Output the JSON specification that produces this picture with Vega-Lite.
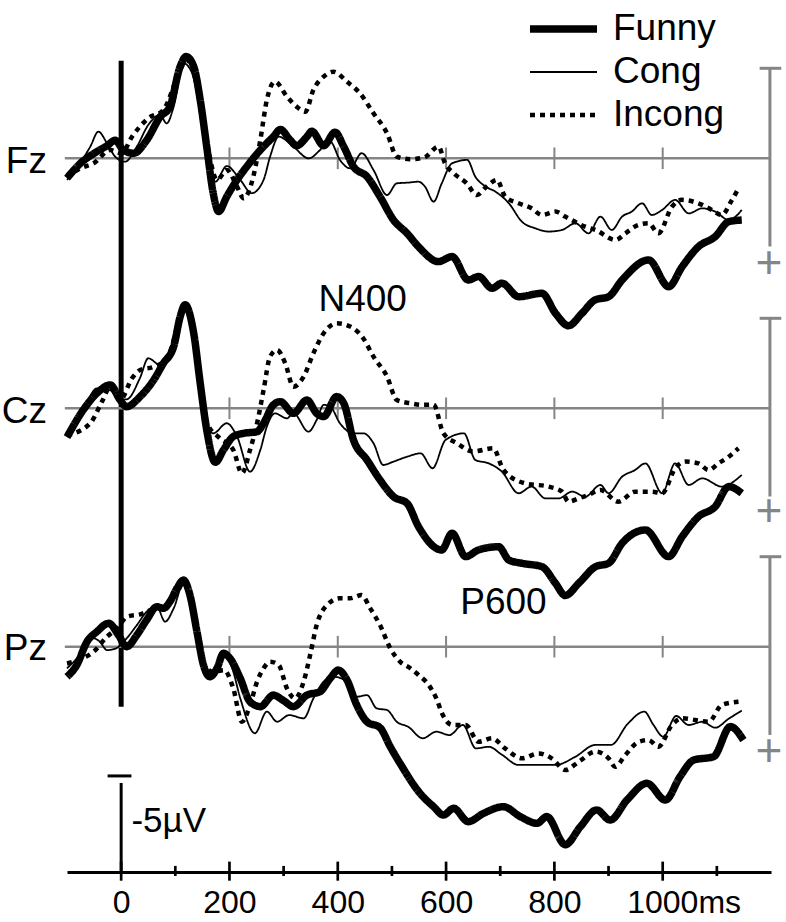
{
  "$schema": "https://vega.github.io/schema/vega-lite/v6.json",
  "width": 704,
  "height": 872,
  "autosize": {"type": "none"},
  "padding": {"left": 67, "top": 0, "right": 15, "bottom": 50},
  "background": "white",
  "config": {"view": {"stroke": null}, "font": "Liberation Sans", "text": {"font": "Liberation Sans"}},
  "datasets": {
    "gridTicks": [{"t": 200}, {"t": 400}, {"t": 600}, {"t": 800}, {"t": 1000}],
    "majorTicks": [{"t": 0}, {"t": 200}, {"t": 400}, {"t": 600}, {"t": 800}, {"t": 1000}],
    "minorTicks": [{"t": 100}, {"t": 300}, {"t": 500}, {"t": 700}, {"t": 900}, {"t": 1100}],
    "one": [{"k": 1}],
    "waves": [
      {"ch":"Fz","cond":"Funny","t":-100,"v":1.1},{"ch":"Fz","cond":"Funny","t":-76,"v":0.3},{"ch":"Fz","cond":"Funny","t":-45,"v":-0.37},{"ch":"Fz","cond":"Funny","t":-26,"v":-0.7},{"ch":"Fz","cond":"Funny","t":-11,"v":-1.0},{"ch":"Fz","cond":"Funny","t":4,"v":-0.46},{"ch":"Fz","cond":"Funny","t":23,"v":-0.28},{"ch":"Fz","cond":"Funny","t":47,"v":-1.0},{"ch":"Fz","cond":"Funny","t":72,"v":-2.3},{"ch":"Fz","cond":"Funny","t":90,"v":-2.87},{"ch":"Fz","cond":"Funny","t":109,"v":-5.1},{"ch":"Fz","cond":"Funny","t":120,"v":-5.65},{"ch":"Fz","cond":"Funny","t":134,"v":-5.1},{"ch":"Fz","cond":"Funny","t":146,"v":-3.24},{"ch":"Fz","cond":"Funny","t":158,"v":-0.65},{"ch":"Fz","cond":"Funny","t":170,"v":1.94},{"ch":"Fz","cond":"Funny","t":180,"v":2.95},{"ch":"Fz","cond":"Funny","t":195,"v":2.13},{"ch":"Fz","cond":"Funny","t":214,"v":1.2},{"ch":"Fz","cond":"Funny","t":232,"v":0.46},{"ch":"Fz","cond":"Funny","t":257,"v":-0.46},{"ch":"Fz","cond":"Funny","t":281,"v":-1.2},{"ch":"Fz","cond":"Funny","t":294,"v":-1.6},{"ch":"Fz","cond":"Funny","t":312,"v":-1.02},{"ch":"Fz","cond":"Funny","t":324,"v":-0.7},{"ch":"Fz","cond":"Funny","t":343,"v":-1.2},{"ch":"Fz","cond":"Funny","t":352,"v":-1.5},{"ch":"Fz","cond":"Funny","t":374,"v":-0.7},{"ch":"Fz","cond":"Funny","t":395,"v":-1.45},{"ch":"Fz","cond":"Funny","t":411,"v":-0.65},{"ch":"Fz","cond":"Funny","t":429,"v":0.46},{"ch":"Fz","cond":"Funny","t":454,"v":1.02},{"ch":"Fz","cond":"Funny","t":478,"v":2.13},{"ch":"Fz","cond":"Funny","t":503,"v":3.43},{"ch":"Fz","cond":"Funny","t":528,"v":4.17},{"ch":"Fz","cond":"Funny","t":549,"v":4.91},{"ch":"Fz","cond":"Funny","t":586,"v":5.74},{"ch":"Fz","cond":"Funny","t":611,"v":5.46},{"ch":"Fz","cond":"Funny","t":641,"v":6.76},{"ch":"Fz","cond":"Funny","t":660,"v":6.57},{"ch":"Fz","cond":"Funny","t":685,"v":7.22},{"ch":"Fz","cond":"Funny","t":703,"v":6.94},{"ch":"Fz","cond":"Funny","t":734,"v":7.69},{"ch":"Fz","cond":"Funny","t":777,"v":7.5},{"ch":"Fz","cond":"Funny","t":802,"v":8.61},{"ch":"Fz","cond":"Funny","t":826,"v":9.3},{"ch":"Fz","cond":"Funny","t":851,"v":8.61},{"ch":"Fz","cond":"Funny","t":875,"v":7.87},{"ch":"Fz","cond":"Funny","t":900,"v":7.69},{"ch":"Fz","cond":"Funny","t":925,"v":6.76},{"ch":"Fz","cond":"Funny","t":974,"v":5.65},{"ch":"Fz","cond":"Funny","t":1011,"v":7.13},{"ch":"Fz","cond":"Funny","t":1036,"v":6.02},{"ch":"Fz","cond":"Funny","t":1066,"v":4.91},{"ch":"Fz","cond":"Funny","t":1097,"v":4.35},{"ch":"Fz","cond":"Funny","t":1122,"v":3.52},{"ch":"Fz","cond":"Funny","t":1146,"v":3.43},
      {"ch":"Fz","cond":"Cong","t":-100,"v":1.2},{"ch":"Fz","cond":"Cong","t":-76,"v":0.28},{"ch":"Fz","cond":"Cong","t":-57,"v":-0.65},{"ch":"Fz","cond":"Cong","t":-42,"v":-1.48},{"ch":"Fz","cond":"Cong","t":-26,"v":-0.83},{"ch":"Fz","cond":"Cong","t":-11,"v":-0.09},{"ch":"Fz","cond":"Cong","t":7,"v":0.19},{"ch":"Fz","cond":"Cong","t":29,"v":-0.65},{"ch":"Fz","cond":"Cong","t":50,"v":-1.85},{"ch":"Fz","cond":"Cong","t":72,"v":-2.41},{"ch":"Fz","cond":"Cong","t":84,"v":-1.94},{"ch":"Fz","cond":"Cong","t":97,"v":-2.87},{"ch":"Fz","cond":"Cong","t":115,"v":-5.28},{"ch":"Fz","cond":"Cong","t":130,"v":-4.8},{"ch":"Fz","cond":"Cong","t":145,"v":-2.8},{"ch":"Fz","cond":"Cong","t":160,"v":-0.3},{"ch":"Fz","cond":"Cong","t":174,"v":1.3},{"ch":"Fz","cond":"Cong","t":195,"v":0.43},{"ch":"Fz","cond":"Cong","t":220,"v":1.2},{"ch":"Fz","cond":"Cong","t":241,"v":1.94},{"ch":"Fz","cond":"Cong","t":263,"v":1.2},{"ch":"Fz","cond":"Cong","t":275,"v":-0.09},{"ch":"Fz","cond":"Cong","t":291,"v":-1.2},{"ch":"Fz","cond":"Cong","t":318,"v":-0.65},{"ch":"Fz","cond":"Cong","t":346,"v":0.0},{"ch":"Fz","cond":"Cong","t":374,"v":-0.65},{"ch":"Fz","cond":"Cong","t":386,"v":-0.93},{"ch":"Fz","cond":"Cong","t":404,"v":0.09},{"ch":"Fz","cond":"Cong","t":423,"v":0.56},{"ch":"Fz","cond":"Cong","t":444,"v":-0.28},{"ch":"Fz","cond":"Cong","t":466,"v":0.65},{"ch":"Fz","cond":"Cong","t":491,"v":2.04},{"ch":"Fz","cond":"Cong","t":509,"v":1.39},{"ch":"Fz","cond":"Cong","t":530,"v":1.35},{"ch":"Fz","cond":"Cong","t":549,"v":1.3},{"ch":"Fz","cond":"Cong","t":561,"v":1.57},{"ch":"Fz","cond":"Cong","t":577,"v":2.41},{"ch":"Fz","cond":"Cong","t":592,"v":1.39},{"ch":"Fz","cond":"Cong","t":611,"v":0.28},{"ch":"Fz","cond":"Cong","t":639,"v":0.09},{"ch":"Fz","cond":"Cong","t":654,"v":1.02},{"ch":"Fz","cond":"Cong","t":673,"v":1.57},{"ch":"Fz","cond":"Cong","t":691,"v":1.85},{"ch":"Fz","cond":"Cong","t":716,"v":2.5},{"ch":"Fz","cond":"Cong","t":740,"v":3.52},{"ch":"Fz","cond":"Cong","t":765,"v":3.89},{"ch":"Fz","cond":"Cong","t":789,"v":4.07},{"ch":"Fz","cond":"Cong","t":814,"v":3.98},{"ch":"Fz","cond":"Cong","t":839,"v":3.61},{"ch":"Fz","cond":"Cong","t":863,"v":4.17},{"ch":"Fz","cond":"Cong","t":885,"v":3.24},{"ch":"Fz","cond":"Cong","t":906,"v":3.98},{"ch":"Fz","cond":"Cong","t":925,"v":3.24},{"ch":"Fz","cond":"Cong","t":943,"v":2.96},{"ch":"Fz","cond":"Cong","t":962,"v":2.5},{"ch":"Fz","cond":"Cong","t":980,"v":3.15},{"ch":"Fz","cond":"Cong","t":999,"v":2.87},{"ch":"Fz","cond":"Cong","t":1023,"v":2.31},{"ch":"Fz","cond":"Cong","t":1048,"v":3.06},{"ch":"Fz","cond":"Cong","t":1073,"v":2.78},{"ch":"Fz","cond":"Cong","t":1097,"v":2.96},{"ch":"Fz","cond":"Cong","t":1122,"v":3.43},{"ch":"Fz","cond":"Cong","t":1146,"v":2.87},
      {"ch":"Fz","cond":"Incong","t":-100,"v":1.05},{"ch":"Fz","cond":"Incong","t":-76,"v":0.56},{"ch":"Fz","cond":"Incong","t":-51,"v":0.28},{"ch":"Fz","cond":"Incong","t":-20,"v":-0.46},{"ch":"Fz","cond":"Incong","t":1,"v":-0.28},{"ch":"Fz","cond":"Incong","t":20,"v":-1.2},{"ch":"Fz","cond":"Incong","t":50,"v":-2.22},{"ch":"Fz","cond":"Incong","t":78,"v":-2.69},{"ch":"Fz","cond":"Incong","t":109,"v":-4.9},{"ch":"Fz","cond":"Incong","t":120,"v":-5.46},{"ch":"Fz","cond":"Incong","t":134,"v":-4.9},{"ch":"Fz","cond":"Incong","t":148,"v":-2.8},{"ch":"Fz","cond":"Incong","t":162,"v":-0.3},{"ch":"Fz","cond":"Incong","t":177,"v":1.2},{"ch":"Fz","cond":"Incong","t":195,"v":0.65},{"ch":"Fz","cond":"Incong","t":214,"v":1.57},{"ch":"Fz","cond":"Incong","t":226,"v":2.22},{"ch":"Fz","cond":"Incong","t":244,"v":1.02},{"ch":"Fz","cond":"Incong","t":257,"v":-1.02},{"ch":"Fz","cond":"Incong","t":269,"v":-3.24},{"ch":"Fz","cond":"Incong","t":284,"v":-4.26},{"ch":"Fz","cond":"Incong","t":306,"v":-3.43},{"ch":"Fz","cond":"Incong","t":324,"v":-2.87},{"ch":"Fz","cond":"Incong","t":340,"v":-2.59},{"ch":"Fz","cond":"Incong","t":355,"v":-3.8},{"ch":"Fz","cond":"Incong","t":374,"v":-4.54},{"ch":"Fz","cond":"Incong","t":392,"v":-4.81},{"ch":"Fz","cond":"Incong","t":417,"v":-4.26},{"ch":"Fz","cond":"Incong","t":441,"v":-3.61},{"ch":"Fz","cond":"Incong","t":466,"v":-2.5},{"ch":"Fz","cond":"Incong","t":491,"v":-1.39},{"ch":"Fz","cond":"Incong","t":509,"v":-0.09},{"ch":"Fz","cond":"Incong","t":534,"v":0.05},{"ch":"Fz","cond":"Incong","t":560,"v":-0.05},{"ch":"Fz","cond":"Incong","t":586,"v":-0.65},{"ch":"Fz","cond":"Incong","t":598,"v":0.28},{"ch":"Fz","cond":"Incong","t":614,"v":0.83},{"ch":"Fz","cond":"Incong","t":638,"v":1.39},{"ch":"Fz","cond":"Incong","t":657,"v":2.04},{"ch":"Fz","cond":"Incong","t":675,"v":1.57},{"ch":"Fz","cond":"Incong","t":694,"v":1.2},{"ch":"Fz","cond":"Incong","t":709,"v":2.13},{"ch":"Fz","cond":"Incong","t":734,"v":2.5},{"ch":"Fz","cond":"Incong","t":758,"v":2.78},{"ch":"Fz","cond":"Incong","t":777,"v":3.15},{"ch":"Fz","cond":"Incong","t":802,"v":2.96},{"ch":"Fz","cond":"Incong","t":820,"v":3.24},{"ch":"Fz","cond":"Incong","t":857,"v":3.8},{"ch":"Fz","cond":"Incong","t":876,"v":3.98},{"ch":"Fz","cond":"Incong","t":913,"v":4.54},{"ch":"Fz","cond":"Incong","t":931,"v":4.17},{"ch":"Fz","cond":"Incong","t":955,"v":3.7},{"ch":"Fz","cond":"Incong","t":974,"v":3.61},{"ch":"Fz","cond":"Incong","t":992,"v":4.17},{"ch":"Fz","cond":"Incong","t":1017,"v":2.69},{"ch":"Fz","cond":"Incong","t":1035,"v":2.31},{"ch":"Fz","cond":"Incong","t":1073,"v":2.59},{"ch":"Fz","cond":"Incong","t":1091,"v":2.87},{"ch":"Fz","cond":"Incong","t":1109,"v":3.15},{"ch":"Fz","cond":"Incong","t":1128,"v":2.31},{"ch":"Fz","cond":"Incong","t":1140,"v":1.67},
      {"ch":"Cz","cond":"Funny","t":-100,"v":1.6},{"ch":"Cz","cond":"Funny","t":-70,"v":0.09},{"ch":"Cz","cond":"Funny","t":-45,"v":-0.83},{"ch":"Cz","cond":"Funny","t":-20,"v":-1.3},{"ch":"Cz","cond":"Funny","t":-2,"v":-0.46},{"ch":"Cz","cond":"Funny","t":10,"v":-0.09},{"ch":"Cz","cond":"Funny","t":35,"v":-0.65},{"ch":"Cz","cond":"Funny","t":60,"v":-1.57},{"ch":"Cz","cond":"Funny","t":78,"v":-2.5},{"ch":"Cz","cond":"Funny","t":97,"v":-3.43},{"ch":"Cz","cond":"Funny","t":109,"v":-5.09},{"ch":"Cz","cond":"Funny","t":118,"v":-5.75},{"ch":"Cz","cond":"Funny","t":134,"v":-4.17},{"ch":"Cz","cond":"Funny","t":146,"v":-1.39},{"ch":"Cz","cond":"Funny","t":158,"v":1.2},{"ch":"Cz","cond":"Funny","t":174,"v":3.0},{"ch":"Cz","cond":"Funny","t":189,"v":2.31},{"ch":"Cz","cond":"Funny","t":207,"v":1.57},{"ch":"Cz","cond":"Funny","t":226,"v":1.39},{"ch":"Cz","cond":"Funny","t":251,"v":1.3},{"ch":"Cz","cond":"Funny","t":263,"v":0.83},{"ch":"Cz","cond":"Funny","t":281,"v":-0.19},{"ch":"Cz","cond":"Funny","t":294,"v":-0.37},{"ch":"Cz","cond":"Funny","t":318,"v":0.28},{"ch":"Cz","cond":"Funny","t":343,"v":-0.46},{"ch":"Cz","cond":"Funny","t":361,"v":0.28},{"ch":"Cz","cond":"Funny","t":374,"v":0.46},{"ch":"Cz","cond":"Funny","t":398,"v":-0.65},{"ch":"Cz","cond":"Funny","t":411,"v":-0.28},{"ch":"Cz","cond":"Funny","t":429,"v":1.76},{"ch":"Cz","cond":"Funny","t":454,"v":2.87},{"ch":"Cz","cond":"Funny","t":478,"v":3.98},{"ch":"Cz","cond":"Funny","t":503,"v":4.91},{"ch":"Cz","cond":"Funny","t":528,"v":5.28},{"ch":"Cz","cond":"Funny","t":549,"v":6.57},{"ch":"Cz","cond":"Funny","t":592,"v":7.87},{"ch":"Cz","cond":"Funny","t":611,"v":6.94},{"ch":"Cz","cond":"Funny","t":636,"v":8.24},{"ch":"Cz","cond":"Funny","t":660,"v":7.87},{"ch":"Cz","cond":"Funny","t":697,"v":7.69},{"ch":"Cz","cond":"Funny","t":716,"v":8.43},{"ch":"Cz","cond":"Funny","t":740,"v":8.61},{"ch":"Cz","cond":"Funny","t":777,"v":8.8},{"ch":"Cz","cond":"Funny","t":802,"v":9.72},{"ch":"Cz","cond":"Funny","t":820,"v":10.4},{"ch":"Cz","cond":"Funny","t":845,"v":9.72},{"ch":"Cz","cond":"Funny","t":876,"v":8.8},{"ch":"Cz","cond":"Funny","t":900,"v":8.61},{"ch":"Cz","cond":"Funny","t":925,"v":7.5},{"ch":"Cz","cond":"Funny","t":968,"v":6.76},{"ch":"Cz","cond":"Funny","t":1011,"v":8.24},{"ch":"Cz","cond":"Funny","t":1036,"v":7.13},{"ch":"Cz","cond":"Funny","t":1066,"v":6.02},{"ch":"Cz","cond":"Funny","t":1097,"v":5.46},{"ch":"Cz","cond":"Funny","t":1122,"v":4.35},{"ch":"Cz","cond":"Funny","t":1146,"v":4.72},
      {"ch":"Cz","cond":"Cong","t":-100,"v":1.5},{"ch":"Cz","cond":"Cong","t":-70,"v":0.1},{"ch":"Cz","cond":"Cong","t":-45,"v":-1.1},{"ch":"Cz","cond":"Cong","t":-20,"v":-1.0},{"ch":"Cz","cond":"Cong","t":-5,"v":-0.5},{"ch":"Cz","cond":"Cong","t":10,"v":-0.5},{"ch":"Cz","cond":"Cong","t":35,"v":-1.7},{"ch":"Cz","cond":"Cong","t":50,"v":-2.78},{"ch":"Cz","cond":"Cong","t":72,"v":-2.4},{"ch":"Cz","cond":"Cong","t":90,"v":-2.7},{"ch":"Cz","cond":"Cong","t":109,"v":-5.0},{"ch":"Cz","cond":"Cong","t":118,"v":-5.6},{"ch":"Cz","cond":"Cong","t":134,"v":-4.1},{"ch":"Cz","cond":"Cong","t":146,"v":-1.5},{"ch":"Cz","cond":"Cong","t":158,"v":0.9},{"ch":"Cz","cond":"Cong","t":170,"v":1.39},{"ch":"Cz","cond":"Cong","t":195,"v":0.83},{"ch":"Cz","cond":"Cong","t":214,"v":1.57},{"ch":"Cz","cond":"Cong","t":238,"v":3.52},{"ch":"Cz","cond":"Cong","t":257,"v":2.31},{"ch":"Cz","cond":"Cong","t":269,"v":1.02},{"ch":"Cz","cond":"Cong","t":284,"v":0.28},{"ch":"Cz","cond":"Cong","t":306,"v":0.56},{"ch":"Cz","cond":"Cong","t":318,"v":0.28},{"ch":"Cz","cond":"Cong","t":346,"v":1.3},{"ch":"Cz","cond":"Cong","t":361,"v":0.65},{"ch":"Cz","cond":"Cong","t":374,"v":-0.19},{"ch":"Cz","cond":"Cong","t":386,"v":-0.1},{"ch":"Cz","cond":"Cong","t":404,"v":0.83},{"ch":"Cz","cond":"Cong","t":429,"v":1.39},{"ch":"Cz","cond":"Cong","t":447,"v":1.39},{"ch":"Cz","cond":"Cong","t":466,"v":1.94},{"ch":"Cz","cond":"Cong","t":484,"v":3.15},{"ch":"Cz","cond":"Cong","t":503,"v":2.96},{"ch":"Cz","cond":"Cong","t":528,"v":2.69},{"ch":"Cz","cond":"Cong","t":553,"v":2.5},{"ch":"Cz","cond":"Cong","t":575,"v":3.33},{"ch":"Cz","cond":"Cong","t":599,"v":1.76},{"ch":"Cz","cond":"Cong","t":633,"v":1.39},{"ch":"Cz","cond":"Cong","t":654,"v":2.87},{"ch":"Cz","cond":"Cong","t":679,"v":3.06},{"ch":"Cz","cond":"Cong","t":703,"v":3.52},{"ch":"Cz","cond":"Cong","t":734,"v":4.72},{"ch":"Cz","cond":"Cong","t":758,"v":4.35},{"ch":"Cz","cond":"Cong","t":783,"v":5.0},{"ch":"Cz","cond":"Cong","t":808,"v":5.0},{"ch":"Cz","cond":"Cong","t":833,"v":4.63},{"ch":"Cz","cond":"Cong","t":857,"v":4.91},{"ch":"Cz","cond":"Cong","t":885,"v":4.26},{"ch":"Cz","cond":"Cong","t":900,"v":4.72},{"ch":"Cz","cond":"Cong","t":925,"v":3.8},{"ch":"Cz","cond":"Cong","t":949,"v":3.43},{"ch":"Cz","cond":"Cong","t":968,"v":3.06},{"ch":"Cz","cond":"Cong","t":999,"v":4.72},{"ch":"Cz","cond":"Cong","t":1023,"v":3.06},{"ch":"Cz","cond":"Cong","t":1048,"v":4.26},{"ch":"Cz","cond":"Cong","t":1073,"v":3.89},{"ch":"Cz","cond":"Cong","t":1109,"v":4.35},{"ch":"Cz","cond":"Cong","t":1146,"v":3.7},
      {"ch":"Cz","cond":"Incong","t":-100,"v":1.5},{"ch":"Cz","cond":"Incong","t":-57,"v":0.83},{"ch":"Cz","cond":"Incong","t":-35,"v":-0.4},{"ch":"Cz","cond":"Incong","t":-20,"v":-1.2},{"ch":"Cz","cond":"Incong","t":-2,"v":-0.46},{"ch":"Cz","cond":"Incong","t":20,"v":-1.67},{"ch":"Cz","cond":"Incong","t":35,"v":-2.13},{"ch":"Cz","cond":"Incong","t":60,"v":-2.3},{"ch":"Cz","cond":"Incong","t":85,"v":-2.8},{"ch":"Cz","cond":"Incong","t":109,"v":-5.0},{"ch":"Cz","cond":"Incong","t":118,"v":-5.6},{"ch":"Cz","cond":"Incong","t":134,"v":-4.1},{"ch":"Cz","cond":"Incong","t":146,"v":-1.5},{"ch":"Cz","cond":"Incong","t":160,"v":0.9},{"ch":"Cz","cond":"Incong","t":180,"v":1.6},{"ch":"Cz","cond":"Incong","t":207,"v":2.31},{"ch":"Cz","cond":"Incong","t":223,"v":3.61},{"ch":"Cz","cond":"Incong","t":238,"v":2.31},{"ch":"Cz","cond":"Incong","t":251,"v":0.83},{"ch":"Cz","cond":"Incong","t":263,"v":-1.02},{"ch":"Cz","cond":"Incong","t":275,"v":-2.87},{"ch":"Cz","cond":"Incong","t":288,"v":-3.24},{"ch":"Cz","cond":"Incong","t":303,"v":-2.5},{"ch":"Cz","cond":"Incong","t":318,"v":-1.2},{"ch":"Cz","cond":"Incong","t":337,"v":-1.76},{"ch":"Cz","cond":"Incong","t":355,"v":-3.06},{"ch":"Cz","cond":"Incong","t":374,"v":-4.17},{"ch":"Cz","cond":"Incong","t":398,"v":-4.72},{"ch":"Cz","cond":"Incong","t":423,"v":-4.54},{"ch":"Cz","cond":"Incong","t":447,"v":-3.89},{"ch":"Cz","cond":"Incong","t":466,"v":-2.87},{"ch":"Cz","cond":"Incong","t":491,"v":-1.76},{"ch":"Cz","cond":"Incong","t":509,"v":-0.46},{"ch":"Cz","cond":"Incong","t":534,"v":-0.28},{"ch":"Cz","cond":"Incong","t":557,"v":-0.19},{"ch":"Cz","cond":"Incong","t":577,"v":-0.2},{"ch":"Cz","cond":"Incong","t":595,"v":1.39},{"ch":"Cz","cond":"Incong","t":620,"v":1.94},{"ch":"Cz","cond":"Incong","t":650,"v":2.4},{"ch":"Cz","cond":"Incong","t":687,"v":2.22},{"ch":"Cz","cond":"Incong","t":706,"v":3.43},{"ch":"Cz","cond":"Incong","t":746,"v":4.17},{"ch":"Cz","cond":"Incong","t":789,"v":4.35},{"ch":"Cz","cond":"Incong","t":814,"v":4.63},{"ch":"Cz","cond":"Incong","t":826,"v":5.19},{"ch":"Cz","cond":"Incong","t":845,"v":5.0},{"ch":"Cz","cond":"Incong","t":863,"v":4.81},{"ch":"Cz","cond":"Incong","t":885,"v":4.54},{"ch":"Cz","cond":"Incong","t":918,"v":5.19},{"ch":"Cz","cond":"Incong","t":949,"v":4.63},{"ch":"Cz","cond":"Incong","t":980,"v":4.63},{"ch":"Cz","cond":"Incong","t":999,"v":4.72},{"ch":"Cz","cond":"Incong","t":1023,"v":3.33},{"ch":"Cz","cond":"Incong","t":1042,"v":2.96},{"ch":"Cz","cond":"Incong","t":1066,"v":3.06},{"ch":"Cz","cond":"Incong","t":1085,"v":3.43},{"ch":"Cz","cond":"Incong","t":1103,"v":3.06},{"ch":"Cz","cond":"Incong","t":1122,"v":2.69},{"ch":"Cz","cond":"Incong","t":1140,"v":2.22},
      {"ch":"Pz","cond":"Funny","t":-100,"v":1.67},{"ch":"Pz","cond":"Funny","t":-82,"v":1.02},{"ch":"Pz","cond":"Funny","t":-63,"v":-0.28},{"ch":"Pz","cond":"Funny","t":-45,"v":-0.83},{"ch":"Pz","cond":"Funny","t":-23,"v":-1.3},{"ch":"Pz","cond":"Funny","t":-5,"v":-0.65},{"ch":"Pz","cond":"Funny","t":10,"v":0.0},{"ch":"Pz","cond":"Funny","t":29,"v":-0.65},{"ch":"Pz","cond":"Funny","t":47,"v":-1.48},{"ch":"Pz","cond":"Funny","t":66,"v":-2.22},{"ch":"Pz","cond":"Funny","t":78,"v":-2.13},{"ch":"Pz","cond":"Funny","t":90,"v":-2.5},{"ch":"Pz","cond":"Funny","t":103,"v":-3.24},{"ch":"Pz","cond":"Funny","t":115,"v":-3.7},{"ch":"Pz","cond":"Funny","t":127,"v":-2.87},{"ch":"Pz","cond":"Funny","t":140,"v":-0.83},{"ch":"Pz","cond":"Funny","t":152,"v":1.02},{"ch":"Pz","cond":"Funny","t":164,"v":1.67},{"ch":"Pz","cond":"Funny","t":177,"v":1.2},{"ch":"Pz","cond":"Funny","t":189,"v":0.37},{"ch":"Pz","cond":"Funny","t":201,"v":0.65},{"ch":"Pz","cond":"Funny","t":220,"v":1.76},{"ch":"Pz","cond":"Funny","t":238,"v":3.06},{"ch":"Pz","cond":"Funny","t":257,"v":3.33},{"ch":"Pz","cond":"Funny","t":281,"v":2.69},{"ch":"Pz","cond":"Funny","t":300,"v":3.0},{"ch":"Pz","cond":"Funny","t":318,"v":3.33},{"ch":"Pz","cond":"Funny","t":343,"v":2.69},{"ch":"Pz","cond":"Funny","t":367,"v":2.5},{"ch":"Pz","cond":"Funny","t":386,"v":1.76},{"ch":"Pz","cond":"Funny","t":401,"v":1.3},{"ch":"Pz","cond":"Funny","t":417,"v":1.85},{"ch":"Pz","cond":"Funny","t":435,"v":3.24},{"ch":"Pz","cond":"Funny","t":454,"v":4.17},{"ch":"Pz","cond":"Funny","t":478,"v":4.5},{"ch":"Pz","cond":"Funny","t":497,"v":5.56},{"ch":"Pz","cond":"Funny","t":515,"v":6.48},{"ch":"Pz","cond":"Funny","t":552,"v":8.15},{"ch":"Pz","cond":"Funny","t":577,"v":8.89},{"ch":"Pz","cond":"Funny","t":595,"v":9.35},{"ch":"Pz","cond":"Funny","t":614,"v":8.98},{"ch":"Pz","cond":"Funny","t":641,"v":9.72},{"ch":"Pz","cond":"Funny","t":669,"v":9.26},{"ch":"Pz","cond":"Funny","t":706,"v":8.89},{"ch":"Pz","cond":"Funny","t":737,"v":9.44},{"ch":"Pz","cond":"Funny","t":768,"v":9.81},{"ch":"Pz","cond":"Funny","t":786,"v":9.44},{"ch":"Pz","cond":"Funny","t":820,"v":11.0},{"ch":"Pz","cond":"Funny","t":848,"v":10.0},{"ch":"Pz","cond":"Funny","t":878,"v":9.07},{"ch":"Pz","cond":"Funny","t":903,"v":9.63},{"ch":"Pz","cond":"Funny","t":934,"v":8.52},{"ch":"Pz","cond":"Funny","t":971,"v":7.59},{"ch":"Pz","cond":"Funny","t":1005,"v":8.52},{"ch":"Pz","cond":"Funny","t":1032,"v":7.22},{"ch":"Pz","cond":"Funny","t":1057,"v":6.3},{"ch":"Pz","cond":"Funny","t":1094,"v":6.11},{"ch":"Pz","cond":"Funny","t":1125,"v":4.44},{"ch":"Pz","cond":"Funny","t":1149,"v":5.19},
      {"ch":"Pz","cond":"Cong","t":-100,"v":1.2},{"ch":"Pz","cond":"Cong","t":-75,"v":0.4},{"ch":"Pz","cond":"Cong","t":-55,"v":-0.5},{"ch":"Pz","cond":"Cong","t":-40,"v":-0.3},{"ch":"Pz","cond":"Cong","t":-26,"v":0.19},{"ch":"Pz","cond":"Cong","t":-10,"v":0.1},{"ch":"Pz","cond":"Cong","t":10,"v":-0.46},{"ch":"Pz","cond":"Cong","t":29,"v":-1.2},{"ch":"Pz","cond":"Cong","t":47,"v":-1.94},{"ch":"Pz","cond":"Cong","t":66,"v":-2.22},{"ch":"Pz","cond":"Cong","t":81,"v":-1.39},{"ch":"Pz","cond":"Cong","t":97,"v":-2.13},{"ch":"Pz","cond":"Cong","t":115,"v":-3.5},{"ch":"Pz","cond":"Cong","t":127,"v":-2.9},{"ch":"Pz","cond":"Cong","t":140,"v":-0.9},{"ch":"Pz","cond":"Cong","t":152,"v":1.0},{"ch":"Pz","cond":"Cong","t":164,"v":1.6},{"ch":"Pz","cond":"Cong","t":177,"v":1.1},{"ch":"Pz","cond":"Cong","t":189,"v":0.5},{"ch":"Pz","cond":"Cong","t":205,"v":1.2},{"ch":"Pz","cond":"Cong","t":220,"v":2.87},{"ch":"Pz","cond":"Cong","t":247,"v":4.81},{"ch":"Pz","cond":"Cong","t":269,"v":3.61},{"ch":"Pz","cond":"Cong","t":288,"v":4.17},{"ch":"Pz","cond":"Cong","t":310,"v":3.8},{"ch":"Pz","cond":"Cong","t":337,"v":3.98},{"ch":"Pz","cond":"Cong","t":355,"v":2.87},{"ch":"Pz","cond":"Cong","t":374,"v":1.94},{"ch":"Pz","cond":"Cong","t":392,"v":1.67},{"ch":"Pz","cond":"Cong","t":417,"v":1.94},{"ch":"Pz","cond":"Cong","t":435,"v":2.78},{"ch":"Pz","cond":"Cong","t":454,"v":2.69},{"ch":"Pz","cond":"Cong","t":472,"v":3.43},{"ch":"Pz","cond":"Cong","t":491,"v":3.52},{"ch":"Pz","cond":"Cong","t":509,"v":4.17},{"ch":"Pz","cond":"Cong","t":530,"v":4.45},{"ch":"Pz","cond":"Cong","t":557,"v":5.09},{"ch":"Pz","cond":"Cong","t":582,"v":4.72},{"ch":"Pz","cond":"Cong","t":606,"v":4.91},{"ch":"Pz","cond":"Cong","t":631,"v":4.35},{"ch":"Pz","cond":"Cong","t":655,"v":5.65},{"ch":"Pz","cond":"Cong","t":679,"v":5.56},{"ch":"Pz","cond":"Cong","t":703,"v":6.0},{"ch":"Pz","cond":"Cong","t":734,"v":6.57},{"ch":"Pz","cond":"Cong","t":765,"v":6.57},{"ch":"Pz","cond":"Cong","t":802,"v":6.57},{"ch":"Pz","cond":"Cong","t":839,"v":6.11},{"ch":"Pz","cond":"Cong","t":875,"v":5.46},{"ch":"Pz","cond":"Cong","t":905,"v":5.45},{"ch":"Pz","cond":"Cong","t":935,"v":4.3},{"ch":"Pz","cond":"Cong","t":966,"v":3.61},{"ch":"Pz","cond":"Cong","t":983,"v":4.35},{"ch":"Pz","cond":"Cong","t":1001,"v":5.0},{"ch":"Pz","cond":"Cong","t":1025,"v":3.85},{"ch":"Pz","cond":"Cong","t":1048,"v":4.35},{"ch":"Pz","cond":"Cong","t":1073,"v":4.17},{"ch":"Pz","cond":"Cong","t":1097,"v":4.5},{"ch":"Pz","cond":"Cong","t":1122,"v":4.0},{"ch":"Pz","cond":"Cong","t":1146,"v":3.55},
      {"ch":"Pz","cond":"Incong","t":-100,"v":0.93},{"ch":"Pz","cond":"Incong","t":-75,"v":0.7},{"ch":"Pz","cond":"Incong","t":-51,"v":0.28},{"ch":"Pz","cond":"Incong","t":-26,"v":-0.56},{"ch":"Pz","cond":"Incong","t":-8,"v":-1.0},{"ch":"Pz","cond":"Incong","t":11,"v":-1.67},{"ch":"Pz","cond":"Incong","t":35,"v":-1.8},{"ch":"Pz","cond":"Incong","t":60,"v":-2.1},{"ch":"Pz","cond":"Incong","t":85,"v":-2.3},{"ch":"Pz","cond":"Incong","t":103,"v":-3.0},{"ch":"Pz","cond":"Incong","t":115,"v":-3.55},{"ch":"Pz","cond":"Incong","t":127,"v":-2.8},{"ch":"Pz","cond":"Incong","t":140,"v":-0.8},{"ch":"Pz","cond":"Incong","t":152,"v":0.9},{"ch":"Pz","cond":"Incong","t":170,"v":1.4},{"ch":"Pz","cond":"Incong","t":190,"v":1.3},{"ch":"Pz","cond":"Incong","t":207,"v":2.31},{"ch":"Pz","cond":"Incong","t":223,"v":4.17},{"ch":"Pz","cond":"Incong","t":238,"v":3.24},{"ch":"Pz","cond":"Incong","t":251,"v":1.94},{"ch":"Pz","cond":"Incong","t":263,"v":1.2},{"ch":"Pz","cond":"Incong","t":275,"v":0.83},{"ch":"Pz","cond":"Incong","t":291,"v":1.02},{"ch":"Pz","cond":"Incong","t":306,"v":2.31},{"ch":"Pz","cond":"Incong","t":321,"v":2.87},{"ch":"Pz","cond":"Incong","t":337,"v":1.94},{"ch":"Pz","cond":"Incong","t":349,"v":0.46},{"ch":"Pz","cond":"Incong","t":361,"v":-1.2},{"ch":"Pz","cond":"Incong","t":380,"v":-2.31},{"ch":"Pz","cond":"Incong","t":404,"v":-2.69},{"ch":"Pz","cond":"Incong","t":423,"v":-2.69},{"ch":"Pz","cond":"Incong","t":444,"v":-2.87},{"ch":"Pz","cond":"Incong","t":460,"v":-2.13},{"ch":"Pz","cond":"Incong","t":478,"v":-1.2},{"ch":"Pz","cond":"Incong","t":497,"v":0.09},{"ch":"Pz","cond":"Incong","t":515,"v":0.83},{"ch":"Pz","cond":"Incong","t":534,"v":1.2},{"ch":"Pz","cond":"Incong","t":549,"v":1.57},{"ch":"Pz","cond":"Incong","t":568,"v":2.13},{"ch":"Pz","cond":"Incong","t":582,"v":2.87},{"ch":"Pz","cond":"Incong","t":594,"v":3.8},{"ch":"Pz","cond":"Incong","t":611,"v":4.35},{"ch":"Pz","cond":"Incong","t":636,"v":4.35},{"ch":"Pz","cond":"Incong","t":660,"v":5.28},{"ch":"Pz","cond":"Incong","t":685,"v":5.09},{"ch":"Pz","cond":"Incong","t":709,"v":5.65},{"ch":"Pz","cond":"Incong","t":740,"v":6.2},{"ch":"Pz","cond":"Incong","t":771,"v":5.93},{"ch":"Pz","cond":"Incong","t":795,"v":6.2},{"ch":"Pz","cond":"Incong","t":820,"v":6.85},{"ch":"Pz","cond":"Incong","t":845,"v":6.39},{"ch":"Pz","cond":"Incong","t":876,"v":5.83},{"ch":"Pz","cond":"Incong","t":900,"v":6.2},{"ch":"Pz","cond":"Incong","t":912,"v":6.67},{"ch":"Pz","cond":"Incong","t":931,"v":6.02},{"ch":"Pz","cond":"Incong","t":956,"v":5.28},{"ch":"Pz","cond":"Incong","t":974,"v":5.19},{"ch":"Pz","cond":"Incong","t":992,"v":5.56},{"ch":"Pz","cond":"Incong","t":1017,"v":4.35},{"ch":"Pz","cond":"Incong","t":1036,"v":3.98},{"ch":"Pz","cond":"Incong","t":1060,"v":4.07},{"ch":"Pz","cond":"Incong","t":1085,"v":4.17},{"ch":"Pz","cond":"Incong","t":1109,"v":3.24},{"ch":"Pz","cond":"Incong","t":1140,"v":3.06}
    ]
  },
  "layer": [
    {
      "layer": [
        {"data": {"name": "one"}, "mark": {"type": "rule", "color": "#858585", "strokeWidth": 2.5},
         "encoding": {"x": {"datum": -104, "type": "quantitative", "title": null}, "x2": {"datum": 1200}, "y": {"datum": 0, "type": "quantitative", "scale": {"domain": [-8.794, 39.65], "reverse": true, "nice": false, "zero": false}, "axis": null}}},
        {"data": {"name": "gridTicks"}, "mark": {"type": "rule", "color": "#858585", "strokeWidth": 2},
         "encoding": {"x": {"field": "t", "type": "quantitative", "title": null, "scale": {"domain": [-100, 1200], "nice": false, "zero": false}}, "y": {"datum": -0.6, "type": "quantitative", "scale": {"domain": [-8.794, 39.65], "reverse": true, "nice": false, "zero": false}, "axis": null}, "y2": {"datum": 0.6}}},
        {"data": {"name": "one"}, "mark": {"type": "rule", "color": "#858585", "strokeWidth": 3},
         "encoding": {"x": {"datum": 1198, "type": "quantitative", "title": null}, "y": {"datum": -5, "type": "quantitative", "scale": {"domain": [-8.794, 39.65], "reverse": true, "nice": false, "zero": false}, "axis": null}, "y2": {"datum": 4.9}}},
        {"data": {"name": "one"}, "mark": {"type": "rule", "color": "#858585", "strokeWidth": 3},
         "encoding": {"x": {"datum": 1179, "type": "quantitative", "title": null}, "x2": {"datum": 1219}, "y": {"datum": -5, "type": "quantitative", "scale": {"domain": [-8.794, 39.65], "reverse": true, "nice": false, "zero": false}, "axis": null}}},
        {"data": {"name": "one"}, "mark": {"type": "text", "text": "+", "fontSize": 46, "color": "#858585", "align": "center", "baseline": "middle"},
         "encoding": {"x": {"datum": 1196, "type": "quantitative", "title": null}, "y": {"datum": 5.85, "type": "quantitative", "scale": {"domain": [-8.794, 39.65], "reverse": true, "nice": false, "zero": false}, "axis": null}}},
        {"data": {"name": "one"}, "mark": {"type": "text", "text": "Fz", "fontSize": 37, "color": "black", "align": "right", "baseline": "alphabetic"},
         "encoding": {"x": {"datum": -137, "type": "quantitative", "title": null}, "y": {"datum": 0.8, "type": "quantitative", "scale": {"domain": [-8.794, 39.65], "reverse": true, "nice": false, "zero": false}, "axis": null}}},
        {"data": {"name": "one"}, "mark": {"type": "rule", "color": "black", "strokeWidth": 5},
         "encoding": {"x": {"datum": 0, "type": "quantitative", "title": null}, "y": {"datum": -5.42, "type": "quantitative", "scale": {"domain": [-8.794, 39.65], "reverse": true, "nice": false, "zero": false}, "axis": null}, "y2": {"datum": 30.47}}},
        {"data": {"name": "waves"}, "transform": [{"filter": "datum.ch === 'Fz'"}],
         "mark": {"type": "line", "color": "black", "interpolate": "monotone", "strokeJoin": "round"},
         "encoding": {
           "x": {"field": "t", "type": "quantitative", "title": null, "scale": {"domain": [-100, 1200], "nice": false, "zero": false}},
           "y": {"field": "v", "type": "quantitative", "scale": {"domain": [-8.794, 39.65], "reverse": true, "nice": false, "zero": false}, "axis": null},
           "strokeWidth": {"field": "cond", "type": "nominal", "scale": {"type": "ordinal", "domain": ["Funny", "Cong", "Incong"], "range": [7.5, 1.8, 4.5]},
             "legend": {"title": null, "orient": "none", "legendX": 459, "legendY": 9, "symbolType": "stroke", "symbolSize": 4489, "clipHeight": 40, "rowPadding": 3, "padding": 0, "labelFontSize": 37, "labelFont": "Liberation Sans", "labelColor": "black", "labelOffset": 12, "labelLimit": 300, "symbolStrokeColor": "black"}},
           "strokeDash": {"field": "cond", "type": "nominal", "scale": {"domain": ["Funny", "Cong", "Incong"], "range": [[1, 0], [1, 0], [5, 5]]},
             "legend": {"title": null, "orient": "none", "legendX": 459, "legendY": 9, "symbolType": "stroke", "symbolSize": 4489, "clipHeight": 40, "rowPadding": 3, "padding": 0, "labelFontSize": 37, "labelFont": "Liberation Sans", "labelColor": "black", "labelOffset": 12, "labelLimit": 300, "symbolStrokeColor": "black"}}
         }}
      ]
    },
    {
      "layer": [
        {"data": {"name": "one"}, "mark": {"type": "rule", "color": "#858585", "strokeWidth": 2.5},
         "encoding": {"x": {"datum": -104, "type": "quantitative", "title": null}, "x2": {"datum": 1200}, "y": {"datum": 0, "type": "quantitative", "scale": {"domain": [-22.683, 25.761], "reverse": true, "nice": false, "zero": false}, "axis": null}}},
        {"data": {"name": "gridTicks"}, "mark": {"type": "rule", "color": "#858585", "strokeWidth": 2},
         "encoding": {"x": {"field": "t", "type": "quantitative", "title": null, "scale": {"domain": [-100, 1200], "nice": false, "zero": false}}, "y": {"datum": -0.6, "type": "quantitative", "scale": {"domain": [-22.683, 25.761], "reverse": true, "nice": false, "zero": false}, "axis": null}, "y2": {"datum": 0.6}}},
        {"data": {"name": "one"}, "mark": {"type": "rule", "color": "#858585", "strokeWidth": 3},
         "encoding": {"x": {"datum": 1198, "type": "quantitative", "title": null}, "y": {"datum": -5, "type": "quantitative", "scale": {"domain": [-22.683, 25.761], "reverse": true, "nice": false, "zero": false}, "axis": null}, "y2": {"datum": 4.9}}},
        {"data": {"name": "one"}, "mark": {"type": "rule", "color": "#858585", "strokeWidth": 3},
         "encoding": {"x": {"datum": 1179, "type": "quantitative", "title": null}, "x2": {"datum": 1219}, "y": {"datum": -5, "type": "quantitative", "scale": {"domain": [-22.683, 25.761], "reverse": true, "nice": false, "zero": false}, "axis": null}}},
        {"data": {"name": "one"}, "mark": {"type": "text", "text": "+", "fontSize": 46, "color": "#858585", "align": "center", "baseline": "middle"},
         "encoding": {"x": {"datum": 1196, "type": "quantitative", "title": null}, "y": {"datum": 5.75, "type": "quantitative", "scale": {"domain": [-22.683, 25.761], "reverse": true, "nice": false, "zero": false}, "axis": null}}},
        {"data": {"name": "one"}, "mark": {"type": "text", "text": "Cz", "fontSize": 37, "color": "black", "align": "right", "baseline": "alphabetic"},
         "encoding": {"x": {"datum": -137, "type": "quantitative", "title": null}, "y": {"datum": 0.8, "type": "quantitative", "scale": {"domain": [-22.683, 25.761], "reverse": true, "nice": false, "zero": false}, "axis": null}}},
        {"data": {"name": "one"}, "mark": {"type": "text", "text": "N400", "fontSize": 37, "color": "black", "align": "center", "baseline": "alphabetic"},
         "encoding": {"x": {"datum": 446, "type": "quantitative", "title": null}, "y": {"datum": -5.4, "type": "quantitative", "scale": {"domain": [-22.683, 25.761], "reverse": true, "nice": false, "zero": false}, "axis": null}}},
        {"data": {"name": "one"}, "mark": {"type": "text", "text": "P600", "fontSize": 37, "color": "black", "align": "center", "baseline": "alphabetic"},
         "encoding": {"x": {"datum": 706, "type": "quantitative", "title": null}, "y": {"datum": 11.43, "type": "quantitative", "scale": {"domain": [-22.683, 25.761], "reverse": true, "nice": false, "zero": false}, "axis": null}}},
        {"data": {"name": "waves"}, "transform": [{"filter": "datum.ch === 'Cz'"}],
         "mark": {"type": "line", "color": "black", "interpolate": "monotone", "strokeJoin": "round"},
         "encoding": {
           "x": {"field": "t", "type": "quantitative", "title": null, "scale": {"domain": [-100, 1200], "nice": false, "zero": false}},
           "y": {"field": "v", "type": "quantitative", "scale": {"domain": [-22.683, 25.761], "reverse": true, "nice": false, "zero": false}, "axis": null},
           "strokeWidth": {"field": "cond", "type": "nominal", "scale": {"type": "ordinal", "domain": ["Funny", "Cong", "Incong"], "range": [7.5, 1.8, 4.5]},
             "legend": {"title": null, "orient": "none", "legendX": 459, "legendY": 9, "symbolType": "stroke", "symbolSize": 4489, "clipHeight": 40, "rowPadding": 3, "padding": 0, "labelFontSize": 37, "labelFont": "Liberation Sans", "labelColor": "black", "labelOffset": 12, "labelLimit": 300, "symbolStrokeColor": "black"}},
           "strokeDash": {"field": "cond", "type": "nominal", "scale": {"domain": ["Funny", "Cong", "Incong"], "range": [[1, 0], [1, 0], [5, 5]]},
             "legend": {"title": null, "orient": "none", "legendX": 459, "legendY": 9, "symbolType": "stroke", "symbolSize": 4489, "clipHeight": 40, "rowPadding": 3, "padding": 0, "labelFontSize": 37, "labelFont": "Liberation Sans", "labelColor": "black", "labelOffset": 12, "labelLimit": 300, "symbolStrokeColor": "black"}}
         }}
      ]
    },
    {
      "layer": [
        {"data": {"name": "one"}, "mark": {"type": "rule", "color": "#858585", "strokeWidth": 2.5},
         "encoding": {"x": {"datum": -104, "type": "quantitative", "title": null}, "x2": {"datum": 1200}, "y": {"datum": 0, "type": "quantitative", "scale": {"domain": [-35.928, 12.517], "reverse": true, "nice": false, "zero": false}, "axis": null}}},
        {"data": {"name": "gridTicks"}, "mark": {"type": "rule", "color": "#858585", "strokeWidth": 2},
         "encoding": {"x": {"field": "t", "type": "quantitative", "title": null, "scale": {"domain": [-100, 1200], "nice": false, "zero": false}}, "y": {"datum": -0.6, "type": "quantitative", "scale": {"domain": [-35.928, 12.517], "reverse": true, "nice": false, "zero": false}, "axis": null}, "y2": {"datum": 0.6}}},
        {"data": {"name": "one"}, "mark": {"type": "rule", "color": "#858585", "strokeWidth": 3},
         "encoding": {"x": {"datum": 1198, "type": "quantitative", "title": null}, "y": {"datum": -5, "type": "quantitative", "scale": {"domain": [-35.928, 12.517], "reverse": true, "nice": false, "zero": false}, "axis": null}, "y2": {"datum": 4.9}}},
        {"data": {"name": "one"}, "mark": {"type": "rule", "color": "#858585", "strokeWidth": 3},
         "encoding": {"x": {"datum": 1179, "type": "quantitative", "title": null}, "x2": {"datum": 1219}, "y": {"datum": -5, "type": "quantitative", "scale": {"domain": [-35.928, 12.517], "reverse": true, "nice": false, "zero": false}, "axis": null}}},
        {"data": {"name": "one"}, "mark": {"type": "text", "text": "+", "fontSize": 46, "color": "#858585", "align": "center", "baseline": "middle"},
         "encoding": {"x": {"datum": 1196, "type": "quantitative", "title": null}, "y": {"datum": 5.85, "type": "quantitative", "scale": {"domain": [-35.928, 12.517], "reverse": true, "nice": false, "zero": false}, "axis": null}}},
        {"data": {"name": "one"}, "mark": {"type": "text", "text": "Pz", "fontSize": 37, "color": "black", "align": "right", "baseline": "alphabetic"},
         "encoding": {"x": {"datum": -137, "type": "quantitative", "title": null}, "y": {"datum": 0.75, "type": "quantitative", "scale": {"domain": [-35.928, 12.517], "reverse": true, "nice": false, "zero": false}, "axis": null}}},
        {"data": {"name": "majorTicks"}, "mark": {"type": "rule", "color": "black", "strokeWidth": 2.7},
         "encoding": {"x": {"field": "t", "type": "quantitative", "title": null, "scale": {"domain": [-100, 1200], "nice": false, "zero": false}}, "y": {"datum": 11.94, "type": "quantitative", "scale": {"domain": [-35.928, 12.517], "reverse": true, "nice": false, "zero": false}, "axis": null}, "y2": {"datum": 13.0}}},
        {"data": {"name": "minorTicks"}, "mark": {"type": "rule", "color": "black", "strokeWidth": 2.7},
         "encoding": {"x": {"field": "t", "type": "quantitative", "title": null, "scale": {"domain": [-100, 1200], "nice": false, "zero": false}}, "y": {"datum": 12.18, "type": "quantitative", "scale": {"domain": [-35.928, 12.517], "reverse": true, "nice": false, "zero": false}, "axis": null}, "y2": {"datum": 12.74}}},
        {"data": {"name": "one"}, "mark": {"type": "rule", "color": "black", "strokeWidth": 3},
         "encoding": {"x": {"datum": 0, "type": "quantitative", "title": null}, "y": {"datum": 7.57, "type": "quantitative", "scale": {"domain": [-35.928, 12.517], "reverse": true, "nice": false, "zero": false}, "axis": null}, "y2": {"datum": 12.52}}},
        {"data": {"name": "one"}, "mark": {"type": "rule", "color": "black", "strokeWidth": 3},
         "encoding": {"x": {"datum": -25, "type": "quantitative", "title": null}, "x2": {"datum": 19}, "y": {"datum": 7.18, "type": "quantitative", "scale": {"domain": [-35.928, 12.517], "reverse": true, "nice": false, "zero": false}, "axis": null}}},
        {"data": {"name": "one"}, "mark": {"type": "text", "text": "-5µV", "fontSize": 35, "color": "black", "align": "left", "baseline": "alphabetic"},
         "encoding": {"x": {"datum": 19, "type": "quantitative", "title": null}, "y": {"datum": 10.28, "type": "quantitative", "scale": {"domain": [-35.928, 12.517], "reverse": true, "nice": false, "zero": false}, "axis": null}}},
        {"data": {"name": "waves"}, "transform": [{"filter": "datum.ch === 'Pz'"}],
         "mark": {"type": "line", "color": "black", "interpolate": "monotone", "strokeJoin": "round"},
         "encoding": {
           "x": {"field": "t", "type": "quantitative", "title": null, "scale": {"domain": [-100, 1200], "nice": false, "zero": false},
             "axis": {
               "values": [0, 200, 400, 600, 800, 1000],
               "labelExpr": "datum.value === 1000 ? '1000ms' : datum.label",
               "labelAlign": {"condition": {"test": "datum.value === 1000", "value": "left"}, "value": "center"},
               "labelOffset": {"condition": {"test": "datum.value === 1000", "value": -36}, "value": 0},
               "domain": true, "domainColor": "black", "domainWidth": 3,
               "ticks": false, "tickSize": 0, "grid": false,
               "labelPadding": 15, "labelFontSize": 32, "labelFont": "Liberation Sans", "labelColor": "black",
               "labelFlush": false, "labelOverlap": false, "labelBound": false, "title": null
             }},
           "y": {"field": "v", "type": "quantitative", "scale": {"domain": [-35.928, 12.517], "reverse": true, "nice": false, "zero": false}, "axis": null},
           "strokeWidth": {"field": "cond", "type": "nominal", "scale": {"type": "ordinal", "domain": ["Funny", "Cong", "Incong"], "range": [7.5, 1.8, 4.5]},
             "legend": {"title": null, "orient": "none", "legendX": 459, "legendY": 9, "symbolType": "stroke", "symbolSize": 4489, "clipHeight": 40, "rowPadding": 3, "padding": 0, "labelFontSize": 37, "labelFont": "Liberation Sans", "labelColor": "black", "labelOffset": 12, "labelLimit": 300, "symbolStrokeColor": "black"}},
           "strokeDash": {"field": "cond", "type": "nominal", "scale": {"domain": ["Funny", "Cong", "Incong"], "range": [[1, 0], [1, 0], [5, 5]]},
             "legend": {"title": null, "orient": "none", "legendX": 459, "legendY": 9, "symbolType": "stroke", "symbolSize": 4489, "clipHeight": 40, "rowPadding": 3, "padding": 0, "labelFontSize": 37, "labelFont": "Liberation Sans", "labelColor": "black", "labelOffset": 12, "labelLimit": 300, "symbolStrokeColor": "black"}}
         }}
      ]
    }
  ],
  "resolve": {"scale": {"y": "independent"}}
}
